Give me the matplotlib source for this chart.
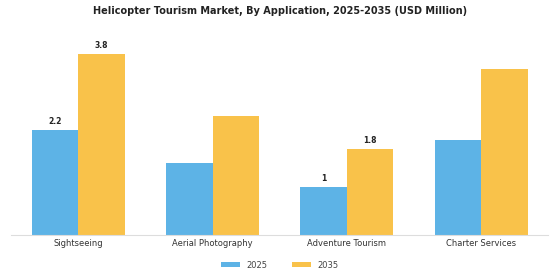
import numpy as np
import matplotlib.pyplot as plt

categories = ['Sightseeing', 'Aerial Photography', 'Adventure Tourism', 'Charter Services']
values_2025 = [2.2, 1.5, 1.0, 2.0]
values_2035 = [3.8, 2.5, 1.8, 3.5]
labels_2025 = ['2.2', '', '1', '']
labels_2035 = ['3.8', '', '1.8', '']

blue = '#5DB3E6'
yellow = '#F9C24A'

fig = plt.figure(figsize=(5.6, 2.8), dpi=100)
ax = fig.add_axes([0.02, 0.162, 0.959, 0.712])

x = np.arange(len(categories))
w = 0.347
b1 = ax.bar(x - w / 2, values_2025, w, color=blue, label='2025')
b2 = ax.bar(x + w / 2, values_2035, w, color=yellow, label='2035')

for rect, lab in zip(b1, labels_2025):
    if lab:
        ax.text(rect.get_x() + rect.get_width() / 2, rect.get_height() + 0.08, lab,
                ha='center', va='bottom', fontsize=5.5, fontweight='bold', color='#222222')
for rect, lab in zip(b2, labels_2035):
    if lab:
        ax.text(rect.get_x() + rect.get_width() / 2, rect.get_height() + 0.08, lab,
                ha='center', va='bottom', fontsize=5.5, fontweight='bold', color='#222222')

ax.set_xlim(-0.5, 3.5)
ax.set_ylim(0, 4.2)
ax.set_xticks(x)
ax.set_xticklabels(categories, fontsize=6, color='#333333')
ax.tick_params(axis='x', length=0, pad=3)
ax.set_yticks([])
for s in ['top', 'right', 'left']:
    ax.spines[s].set_visible(False)
ax.spines['bottom'].set_color('#dddddd')
ax.spines['bottom'].set_linewidth(0.8)

fig.text(0.5, 0.96, 'Helicopter Tourism Market, By Application, 2025-2035 (USD Million)',
         ha='center', va='center', fontsize=7, fontweight='bold', color='#222222')

fig.legend(handles=[b1, b2], loc='center', bbox_to_anchor=(0.5, 0.053), ncol=2,
           frameon=False, fontsize=6, handlelength=2.2, handleheight=0.5,
           columnspacing=3, labelcolor='#444444')

fig.savefig('out.png', dpi=100)
